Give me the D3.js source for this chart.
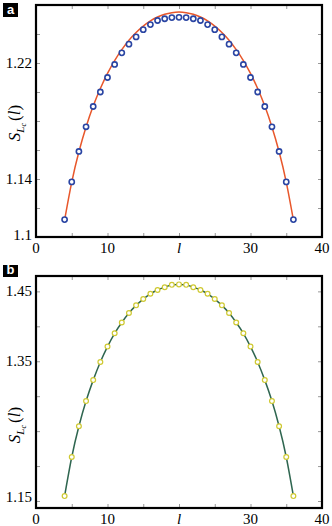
<!DOCTYPE html>
<html>
<head>
<meta charset="utf-8">
<script src="https://cdn.jsdelivr.net/npm/d3@7"></script>
<style>
	body { margin: 0; background: #fff; }
	svg { display: block; }
</style>
</head>
<body>
<div id="my_dataviz"></div>
<script>
// subsystem sizes l
const sizes = d3.range(4, 37);

// panel a : numerics (circles) and fitted curve
const pointsA = [1.112, 1.138, 1.159, 1.176, 1.190, 1.200, 1.210, 1.219, 1.227, 1.233, 1.238,
	1.243, 1.2465, 1.2493, 1.2505, 1.2513, 1.2515, 1.2513, 1.2505, 1.2493, 1.2465, 1.243,
	1.238, 1.233, 1.227, 1.219, 1.210, 1.200, 1.190, 1.176, 1.159, 1.138, 1.112];
const curveA = [1.1118, 1.1379, 1.1588, 1.1759, 1.1903, 1.2024, 1.2128, 1.2217, 1.2292, 1.2357,
	1.2410, 1.2454, 1.2490, 1.2517, 1.2536, 1.2547, 1.2551, 1.2547, 1.2536, 1.2517, 1.2490,
	1.2454, 1.2410, 1.2357, 1.2292, 1.2217, 1.2128, 1.2024, 1.1903, 1.1759, 1.1588, 1.1379, 1.1118];

// panel b : numerics lie on the curve
const pointsB = [1.157, 1.213, 1.257, 1.293, 1.323, 1.349, 1.371, 1.390, 1.4055, 1.419, 1.430,
	1.439, 1.4465, 1.452, 1.456, 1.4593, 1.460, 1.4593, 1.456, 1.452, 1.4465, 1.439, 1.430,
	1.419, 1.4055, 1.390, 1.371, 1.349, 1.323, 1.293, 1.257, 1.213, 1.157];

// ticks
const xTicks = [0, 5, 10, 15, 20, 25, 30, 35, 40];
const xLabels = { 0: "0", 10: "10", 20: "l", 30: "30", 40: "40" };
const yTicksA = [1.1, 1.12, 1.14, 1.16, 1.18, 1.2, 1.22, 1.24, 1.26];
const yLabelsA = ["1.1", "1.14", "1.22"];
const yTicksB = [1.15, 1.2, 1.25, 1.3, 1.35, 1.4, 1.45];
const yLabelsB = ["1.15", "1.35", "1.45"];

const serif = "'Liberation Serif', 'Times New Roman', Times, serif";

const W = 332, H = 526;
const svg = d3
	.select("#my_dataviz")
	.append("svg")
	.attr("width", W)
	.attr("height", H);

function drawPanel(opt) {
	const x = d3.scaleLinear().domain([0, 40]).range([36, 322]);
	const y = d3.scaleLinear().domain(opt.ydomain).range([opt.bottom, opt.top]);
	const g = svg.append("g");

	// inward ticks on all four sides
	const fmtNone = () => "";
	g.append("g")
		.attr("transform", `translate(0,${opt.bottom})`)
		.call(d3.axisBottom(x).tickValues(xTicks).tickSize(-4).tickFormat(fmtNone));
	g.append("g")
		.attr("transform", `translate(0,${opt.top})`)
		.call(d3.axisTop(x).tickValues(xTicks).tickSize(-4).tickFormat(fmtNone));
	g.append("g")
		.attr("transform", "translate(36,0)")
		.call(d3.axisLeft(y).tickValues(opt.yticks).tickSize(-4).tickFormat(fmtNone));
	g.append("g")
		.attr("transform", "translate(322,0)")
		.call(d3.axisRight(y).tickValues(opt.yticks).tickSize(-4).tickFormat(fmtNone));
	g.selectAll(".domain").remove();
	g.selectAll(".tick line").attr("stroke", "#999").attr("stroke-width", 1);

	// x tick labels
	g.selectAll(".xlab")
		.data(xTicks.filter((d) => xLabels[d] !== undefined))
		.join("text")
		.attr("class", "xlab")
		.attr("x", (d) => x(d))
		.attr("y", opt.bottom + 16)
		.attr("text-anchor", "middle")
		.style("font-family", serif)
		.style("font-size", "15px")
		.style("font-style", (d) => (d === 20 ? "italic" : "normal"))
		.text((d) => xLabels[d]);

	// y tick labels
	g.selectAll(".ylab")
		.data(opt.ylabels)
		.join("text")
		.attr("class", "ylab")
		.attr("x", 32)
		.attr("y", (d) => y(+d) + 5 + (opt.labelShift[d] || 0))
		.attr("text-anchor", "end")
		.style("font-family", serif)
		.style("font-size", "15px")
		.text((d) => d);

	// curve
	const line = d3
		.line()
		.x((d, i) => x(sizes[i]))
		.y((d) => y(d))
		.curve(d3.curveNatural);
	g.append("path")
		.datum(opt.curve)
		.attr("d", line)
		.attr("fill", "none")
		.attr("stroke", opt.lineColor)
		.attr("stroke-width", 1.5);

	// circles
	g.selectAll(".pt")
		.data(opt.points)
		.join("circle")
		.attr("class", "pt")
		.attr("cx", (d, i) => x(sizes[i]))
		.attr("cy", (d) => y(d))
		.attr("r", opt.r)
		.attr("fill", "#fff")
		.attr("stroke", opt.markColor)
		.attr("stroke-width", opt.sw);

	// frame
	g.append("rect")
		.attr("x", 36)
		.attr("y", opt.top)
		.attr("width", 286)
		.attr("height", opt.bottom - opt.top)
		.attr("fill", "none")
		.attr("stroke", "#000")
		.attr("stroke-width", 2.2);

	// y axis title S_Lc(l)
	const t = g.append("text")
		.attr("transform", `translate(20,${opt.titleY}) rotate(-90)`)
		.attr("text-anchor", "middle")
		.style("font-family", serif)
		.style("font-size", "17px");
	t.append("tspan").style("font-style", "italic").text("S");
	t.append("tspan").style("font-style", "italic").style("font-size", "11px").attr("dy", 4).text("L");
	t.append("tspan").style("font-style", "italic").style("font-size", "8px").attr("dy", 2).text("c");
	t.append("tspan").attr("dy", -6).attr("dx", 2).text("(");
	t.append("tspan").style("font-style", "italic").text("l");
	t.append("tspan").text(")");

	// panel letter
	g.append("rect")
		.attr("x", 3)
		.attr("y", opt.boxY)
		.attr("width", 15)
		.attr("height", opt.boxH)
		.attr("fill", "#000");
	g.append("text")
		.attr("x", 10.5)
		.attr("y", opt.boxY + opt.boxH - 3)
		.attr("text-anchor", "middle")
		.attr("fill", "#fff")
		.style("font-family", "'Liberation Sans', Arial, sans-serif")
		.style("font-weight", "bold")
		.style("font-size", "13px")
		.text(opt.letter);
}

drawPanel({
	letter: "a", boxY: 3, boxH: 14,
	top: 5, bottom: 237, ydomain: [1.1, 1.26],
	yticks: yTicksA, ylabels: yLabelsA, labelShift: { "1.1": -2 },
	curve: curveA, points: pointsA,
	lineColor: "#e8572b", markColor: "#2a45a3", r: 2.6, sw: 1.6,
	titleY: 123,
});

drawPanel({
	letter: "b", boxY: 265, boxH: 12,
	top: 276, bottom: 508, ydomain: [1.14, 1.472],
	yticks: yTicksB, ylabels: yLabelsB, labelShift: { "1.15": -4 },
	curve: pointsB, points: pointsB,
	lineColor: "#2f6650", markColor: "#cfc932", r: 2.4, sw: 1.2,
	titleY: 425,
});
</script>
</body>
</html>
